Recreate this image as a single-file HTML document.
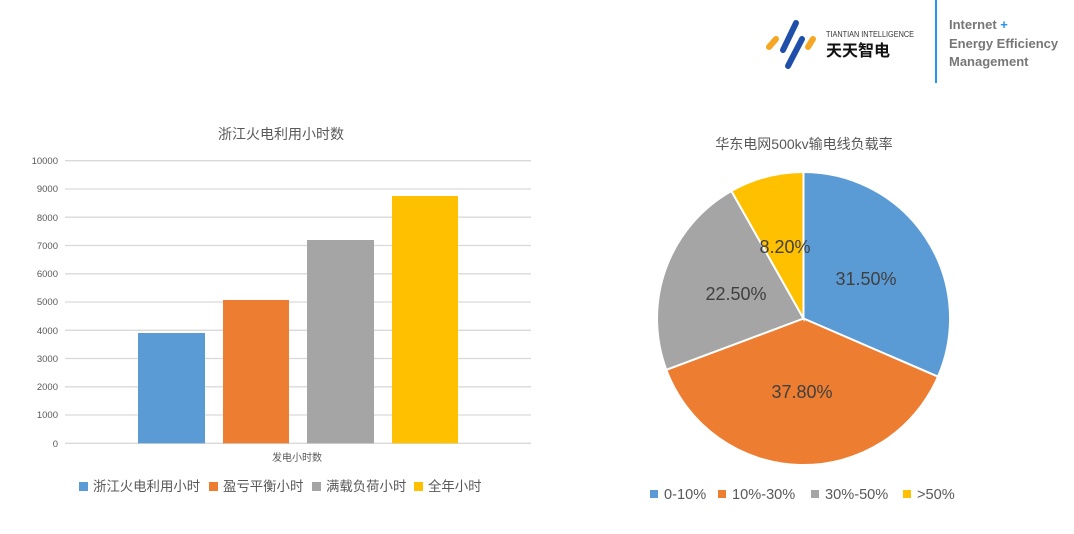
<!DOCTYPE html>
<html><head><meta charset="utf-8"><style>
html,body{margin:0;padding:0;background:#fff;}
body{width:1074px;height:534px;overflow:hidden;position:relative;font-family:"Liberation Sans","Noto Sans CJK SC",sans-serif;}
</style></head><body>
<svg width="1074" height="534" viewBox="0 0 1074 534" xmlns="http://www.w3.org/2000/svg" style="position:absolute;left:0;top:0;font-family:'Liberation Sans','Noto Sans CJK SC',sans-serif;">
<!-- logo -->
<g stroke-linecap="round">
<line x1="769" y1="47" x2="776" y2="39" stroke="#f5a623" stroke-width="6"/>
<line x1="796" y1="23" x2="783" y2="50" stroke="#1f4fa8" stroke-width="6"/>
<line x1="802" y1="39" x2="788" y2="66" stroke="#1f4fa8" stroke-width="6"/>
<line x1="813" y1="39" x2="808" y2="47" stroke="#f5a623" stroke-width="6"/>
</g>
<text x="826" y="37" font-size="8" fill="#333" textLength="88" lengthAdjust="spacingAndGlyphs">TIANTIAN INTELLIGENCE</text>
<text x="826" y="56" font-size="16" fill="#111" font-weight="bold" textLength="64" lengthAdjust="spacingAndGlyphs">天天智电</text>
<rect x="935" y="0" width="2" height="83" fill="#2196f3"/>
<text x="949" y="29" font-size="13" fill="#777" font-weight="bold">Internet <tspan fill="#2196f3">+</tspan></text>
<text x="949" y="48" font-size="13" fill="#777" font-weight="bold">Energy Efficiency</text>
<text x="949" y="66" font-size="13" fill="#777" font-weight="bold">Management</text>

<!-- bar chart -->
<text x="281" y="139" font-size="14" fill="#595959" text-anchor="middle">浙江火电利用小时数</text>
<g stroke="#d9d9d9" stroke-width="1.3">
<line x1="65" x2="531" y1="160.7" y2="160.7"/>
<line x1="65" x2="531" y1="189" y2="189"/>
<line x1="65" x2="531" y1="217.2" y2="217.2"/>
<line x1="65" x2="531" y1="245.5" y2="245.5"/>
<line x1="65" x2="531" y1="273.8" y2="273.8"/>
<line x1="65" x2="531" y1="302" y2="302"/>
<line x1="65" x2="531" y1="330.3" y2="330.3"/>
<line x1="65" x2="531" y1="358.5" y2="358.5"/>
<line x1="65" x2="531" y1="386.8" y2="386.8"/>
<line x1="65" x2="531" y1="415" y2="415"/>
<line x1="65" x2="531" y1="443.3" y2="443.3"/>
</g>
<g font-size="9.5" fill="#595959" text-anchor="end">
<text x="58" y="164">10000</text><text x="58" y="192">9000</text><text x="58" y="221">8000</text>
<text x="58" y="249">7000</text><text x="58" y="277">6000</text><text x="58" y="305">5000</text>
<text x="58" y="334">4000</text><text x="58" y="362">3000</text><text x="58" y="390">2000</text>
<text x="58" y="418">1000</text><text x="58" y="447">0</text>
</g>
<rect x="138" y="333" width="67" height="110.3" fill="#5b9bd5"/>
<rect x="223" y="300" width="66" height="143.3" fill="#ed7d31"/>
<rect x="307" y="240" width="67" height="203.3" fill="#a5a5a5"/>
<rect x="392" y="196" width="66" height="247.3" fill="#ffc000"/>
<text x="297" y="461" font-size="10" fill="#595959" text-anchor="middle">发电小时数</text>
<g font-size="13.4" fill="#595959">
<rect x="79" y="482" width="9" height="9" fill="#5b9bd5"/><text x="93" y="491">浙江火电利用小时</text>
<rect x="209" y="482" width="9" height="9" fill="#ed7d31"/><text x="223" y="491">盈亏平衡小时</text>
<rect x="312" y="482" width="9" height="9" fill="#a5a5a5"/><text x="326" y="491">满载负荷小时</text>
<rect x="414" y="482" width="9" height="9" fill="#ffc000"/><text x="428" y="491">全年小时</text>
</g>

<!-- pie -->
<text x="804" y="149" font-size="14" fill="#595959" text-anchor="middle">华东电网500kv输电线负载率</text>
<g stroke="#fff" stroke-width="2">
<path d="M803.5,318.5 L803.5,172 A146.5,146.5 0 0 1 938,376.7 Z" fill="#5b9bd5"/>
<path d="M803.5,318.5 L938,376.7 A146.5,146.5 0 0 1 666.3,369.8 Z" fill="#ed7d31"/>
<path d="M803.5,318.5 L666.3,369.8 A146.5,146.5 0 0 1 731.4,191 Z" fill="#a5a5a5"/>
<path d="M803.5,318.5 L731.4,191 A146.5,146.5 0 0 1 803.5,172 Z" fill="#ffc000"/>
</g>
<g font-size="18" fill="#404040" text-anchor="middle">
<text x="866" y="285">31.50%</text>
<text x="802" y="398">37.80%</text>
<text x="736" y="300">22.50%</text>
<text x="785" y="253">8.20%</text>
</g>
<g font-size="14.6" fill="#595959">
<rect x="650" y="490" width="8" height="8" fill="#5b9bd5"/><text x="664" y="499">0-10%</text>
<rect x="718" y="490" width="8" height="8" fill="#ed7d31"/><text x="732" y="499">10%-30%</text>
<rect x="811" y="490" width="8" height="8" fill="#a5a5a5"/><text x="825" y="499">30%-50%</text>
<rect x="903" y="490" width="8" height="8" fill="#ffc000"/><text x="917" y="499">&gt;50%</text>
</g>
</svg>
</body></html>
